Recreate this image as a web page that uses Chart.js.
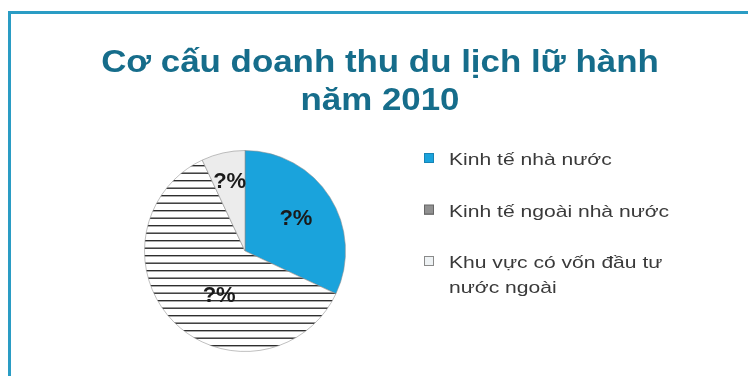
<!DOCTYPE html>
<html>
<head>
<meta charset="utf-8">
<script src="https://cdn.jsdelivr.net/npm/chart.js@4.4.1/dist/chart.umd.min.js"></script>
<style>
  html, body { margin: 0; padding: 0; background: #fff; }
  #chart { display: block; }
</style>
</head>
<body>
<canvas id="chart" width="748" height="376"></canvas>
<script>
// Cơ cấu doanh thu du lịch lữ hành năm 2010 - pie with a side legend
const titleLines = ['Cơ cấu doanh thu du lịch lữ hành', 'năm 2010'];
const sectors = ['Kinh tế nhà nước', 'Kinh tế ngoài nhà nước', 'Khu vực có vốn đầu tư nước ngoài'];
const legendLines = [['Kinh tế nhà nước'], ['Kinh tế ngoài nhà nước'], ['Khu vực có vốn đầu tư', 'nước ngoài']];
const shares = [32, 61, 7];
const sliceLabels = ['?%', '?%', '?%'];

const canvas = document.getElementById('chart');
const ctx = canvas.getContext('2d');

// horizontal line hatching for the non-state sector
function makeHatch(gap, color) {
  const tile = document.createElement('canvas');
  tile.width = 8;
  tile.height = gap * 2;
  const g = tile.getContext('2d');
  g.fillStyle = '#fff';
  g.fillRect(0, 0, tile.width, tile.height);
  g.fillStyle = color;
  g.fillRect(0, 0, tile.width, 1.4);
  g.fillRect(0, gap, tile.width, 1.4);
  return ctx.createPattern(tile, 'repeat');
}

const hatch = makeHatch(7.5, '#2e2e2e');
const sliceColors = ['#1aa3dc', hatch, '#ececec'];

// stretched text, the page font runs wide
function wideText(c, text, x, y, sx) {
  c.save();
  c.translate(x, y);
  c.scale(sx, 1);
  c.fillText(text, 0, 0);
  c.restore();
}

// teal frame behind everything
const framePlugin = {
  id: 'frame',
  beforeDraw(chart) {
    const c = chart.ctx;
    c.save();
    c.fillStyle = '#fff';
    c.fillRect(0, 0, chart.width, chart.height);
    c.fillStyle = '#2a9cc4';
    c.fillRect(8, 11, chart.width - 8, 3);
    c.fillRect(8, 11, 3, chart.height - 11);
    c.restore();
  }
};

const titlePlugin = {
  id: 'titleText',
  afterDraw(chart) {
    const c = chart.ctx;
    c.save();
    c.fillStyle = '#166d8b';
    c.font = 'bold 32px "Liberation Sans", Arial, sans-serif';
    c.textAlign = 'center';
    c.textBaseline = 'alphabetic';
    titleLines.forEach((line, i) => wideText(c, line, 380, 72 + i * 38, 1.09));
    c.restore();
  }
};

// "?%" labels inside the slices
const sliceLabelPlugin = {
  id: 'sliceLabels',
  afterDatasetsDraw(chart, args, opts) {
    const c = chart.ctx;
    const arcs = chart.getDatasetMeta(0).data;
    c.save();
    c.font = 'bold 22px "Liberation Sans", Arial, sans-serif';
    c.fillStyle = '#1a1a1a';
    c.textAlign = 'center';
    c.textBaseline = 'middle';
    arcs.forEach((arc, i) => {
      const p = opts.place[i];
      const a = arc.startAngle + (arc.endAngle - arc.startAngle) * p.t;
      const r = arc.outerRadius * p.r;
      c.fillText(sliceLabels[i], arc.x + Math.cos(a) * r, arc.y + Math.sin(a) * r);
    });
    c.restore();
  }
};

function legendBox(c, i, color, x, y) {
  if (i === 1) {
    c.fillStyle = '#fff';
    c.fillRect(x, y, 10, 10);
    c.fillStyle = '#222';
    for (let k = 1; k < 10; k += 2) c.fillRect(x, y + k, 10, 1);
    c.strokeStyle = '#666';
  } else {
    c.fillStyle = i === 2 ? '#eef2f4' : color;
    c.fillRect(x, y, 10, 10);
    c.strokeStyle = i === 0 ? '#1784b5' : '#8a8a8a';
  }
  c.lineWidth = 1;
  c.strokeRect(x + 0.5, y + 0.5, 9, 9);
}

const legendPlugin = {
  id: 'sideLegend',
  afterDraw(chart, args, opts) {
    const c = chart.ctx;
    const colors = chart.data.datasets[0].backgroundColor;
    c.save();
    c.font = '17px "Liberation Sans", Arial, sans-serif';
    c.textBaseline = 'alphabetic';
    let y = opts.top;
    legendLines.forEach((lines, i) => {
      legendBox(c, i, colors[i], opts.left, y - 12);
      c.fillStyle = '#3a3a3a';
      lines.forEach((t, j) => wideText(c, t, opts.left + 25, y + j * opts.lineGap, 1.24));
      y += opts.itemGap;
    });
    c.restore();
  }
};

new Chart(canvas, {
  type: 'pie',
  data: {
    labels: sectors,
    datasets: [{
      data: shares,
      backgroundColor: sliceColors,
      borderColor: 'rgba(140,140,140,0.55)',
      borderWidth: 1,
      hoverOffset: 0
    }]
  },
  options: {
    responsive: false,
    animation: false,
    events: [],
    layout: { padding: { left: 144, right: 402, top: 150, bottom: 24 } },
    plugins: {
      legend: { display: false },
      title: { display: false },
      tooltip: { enabled: false },
      sliceLabels: { place: [{ t: 0.5, r: 0.6 }, { t: 0.43, r: 0.52 }, { t: 0.5, r: 0.7 }] },
      sideLegend: { left: 424, top: 165, itemGap: 51.5, lineGap: 25 }
    }
  },
  plugins: [framePlugin, sliceLabelPlugin, titlePlugin, legendPlugin]
});
</script>
</body>
</html>
